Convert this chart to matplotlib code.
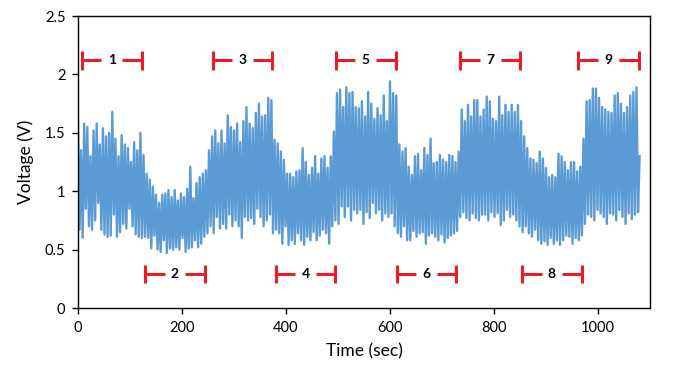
import numpy as np
import matplotlib
matplotlib.use("Agg")
import matplotlib.pyplot as plt

# peak values of each ~6 s cycle (t = 0, 6, 12, ...)
peaks = [
    1.60, 1.35, 1.58, 1.55, 1.30, 1.52, 1.58, 1.40, 1.54, 1.47,
    1.50, 1.68, 1.45, 1.30, 1.48, 1.40, 1.37, 1.25, 1.42, 1.35,
    1.50, 1.31, 1.15, 1.10, 1.04, 0.97, 0.90, 0.97, 0.98, 1.01,
    0.95, 1.01, 0.92, 0.98, 0.95, 1.02, 1.21, 0.94, 1.07, 1.12,
    1.15, 1.18, 1.35, 1.47, 1.52, 1.41, 1.52, 1.41, 1.65, 1.55,
    1.52, 1.58, 1.42, 1.60, 1.72, 1.58, 1.54, 1.67, 1.75, 1.64,
    1.65, 1.80, 1.78, 1.44, 1.41, 1.34, 1.27, 1.15, 1.15, 1.12,
    1.17, 1.18, 1.37, 1.25, 1.14, 1.20, 1.30, 1.15, 1.28, 1.30,
    1.20, 1.30, 1.51, 1.84, 1.87, 1.72, 1.89, 1.84, 1.85, 1.72,
    1.71, 1.77, 1.64, 1.85, 1.75, 1.62, 1.71, 1.65, 1.82, 1.60,
    1.94, 1.84, 1.82, 1.40, 1.34, 1.37, 1.21, 1.14, 1.30, 1.32,
    1.18, 1.37, 1.31, 1.45, 1.24, 1.25, 1.31, 1.27, 1.25, 1.31,
    1.30, 1.25, 1.34, 1.70, 1.60, 1.74, 1.64, 1.78, 1.78, 1.64,
    1.70, 1.81, 1.77, 1.62, 1.60, 1.81, 1.65, 1.74, 1.68, 1.74,
    1.68, 1.74, 1.60, 1.47, 1.37, 1.28, 1.27, 1.24, 1.34, 1.28,
    1.20, 1.12, 1.14, 1.12, 1.32, 1.30, 1.25, 1.18, 1.25, 1.25,
    1.17, 1.21, 1.45, 1.77, 1.78, 1.88, 1.88, 1.80, 1.72, 1.70,
    1.68, 1.67, 1.82, 1.84, 1.75, 1.67, 1.72, 1.82, 1.85, 1.89,
]
# trough values in between (t = 3, 9, 15, ...)
troughs = [
    0.67, 0.60, 0.85, 0.70, 0.67, 0.75, 0.90, 0.67, 0.63, 0.61,
    0.62, 0.80, 0.61, 0.65, 0.72, 0.68, 0.85, 0.70, 0.63, 0.61,
    0.60, 0.61, 0.60, 0.51, 0.62, 0.50, 0.48, 0.58, 0.47, 0.51,
    0.50, 0.52, 0.50, 0.60, 0.48, 0.51, 0.52, 0.58, 0.52, 0.55,
    0.61, 0.64, 0.70, 0.64, 0.78, 0.68, 0.72, 0.68, 0.80, 0.70,
    0.75, 0.70, 0.60, 0.78, 0.75, 0.77, 0.72, 0.85, 0.78, 0.70,
    0.75, 0.80, 0.64, 0.67, 0.64, 0.55, 0.70, 0.54, 0.58, 0.55,
    0.64, 0.58, 0.54, 0.61, 0.58, 0.65, 0.58, 0.62, 0.67, 0.64,
    0.55, 0.70, 0.75, 0.72, 0.87, 0.78, 0.87, 0.75, 0.84, 0.81,
    0.84, 0.72, 0.82, 0.77, 0.90, 0.81, 0.84, 0.75, 0.81, 0.78,
    0.81, 0.70, 0.64, 0.61, 0.70, 0.58, 0.58, 0.66, 0.61, 0.64,
    0.65, 0.55, 0.62, 0.64, 0.61, 0.58, 0.63, 0.56, 0.60, 0.62,
    0.64, 0.66, 0.78, 0.82, 0.77, 0.75, 0.81, 0.77, 0.75, 0.80,
    0.80, 0.75, 0.82, 0.78, 0.81, 0.71, 0.75, 0.84, 0.78, 0.80,
    0.75, 0.70, 0.65, 0.70, 0.64, 0.61, 0.67, 0.58, 0.55, 0.57,
    0.54, 0.60, 0.55, 0.58, 0.54, 0.58, 0.62, 0.61, 0.55, 0.60,
    0.58, 0.62, 0.72, 0.80, 0.78, 0.75, 0.84, 0.81, 0.78, 0.72,
    0.81, 0.80, 0.75, 0.84, 0.78, 0.72, 0.81, 0.76, 0.80, 0.82,
]
last_t, last_v = 1080, 1.30

# labelled intervals (sec)
seg_labels = ["1", "2", "3", "4", "5", "6", "7", "8", "9"]
seg_start = [7, 129, 260, 380, 496, 614, 735, 854, 962]
seg_end = [123, 244, 374, 495, 611, 727, 850, 969, 1078]
seg_level = [2.12, 0.29, 2.12, 0.29, 2.12, 0.29, 2.12, 0.29, 2.12]

# interleave peaks and troughs into one trace
peak_t = np.arange(len(peaks)) * 6
trough_t = peak_t + 3
t = np.empty(2 * len(peaks))
v = np.empty(2 * len(peaks))
t[0::2], t[1::2] = peak_t, trough_t
v[0::2], v[1::2] = peaks, troughs
t = np.append(t, last_t)
v = np.append(v, last_v)

plt.rcParams['font.family'] = ['Lato', 'DejaVu Sans']

fig = plt.figure(figsize=(6.81, 3.82), dpi=100)
ax = fig.add_axes([0.1145, 0.1937, 0.84, 0.7643])
ax.plot(t, v, color='#5B9BD5', linewidth=1.7)

red = '#ED1C24'
tick_h = 0.08
for lab, s, e, y in zip(seg_labels, seg_start, seg_end, seg_level):
    mid = (s + e) / 2
    gap = 20
    ax.hlines(y, s, mid - gap, color=red, linewidth=2.2)
    ax.hlines(y, mid + gap, e, color=red, linewidth=2.2)
    ax.vlines([s, e], y - tick_h, y + tick_h, color=red, linewidth=2.2)
    ax.text(mid, y, lab, ha='center', va='center', fontsize=10,
            fontweight='bold', color='black')

ax.set_xlim(0, 1100)
ax.set_ylim(0, 2.5)
ax.set_xticks([0, 200, 400, 600, 800, 1000])
ax.set_yticks([0, 0.5, 1, 1.5, 2, 2.5])
ax.set_yticklabels(["0", "0.5", "1", "1.5", "2", "2.5"])
ax.tick_params(direction='out', length=4, width=1, labelsize=10.5, pad=5,
               color='black', labelcolor='black')
for sp in ax.spines.values():
    sp.set_color('black')
    sp.set_linewidth(1)
ax.set_xlabel('Time (sec)', fontsize=12.5, labelpad=6)
ax.set_ylabel('Voltage (V)', fontsize=12.5, labelpad=8)

fig.savefig('out.png', dpi=100)
